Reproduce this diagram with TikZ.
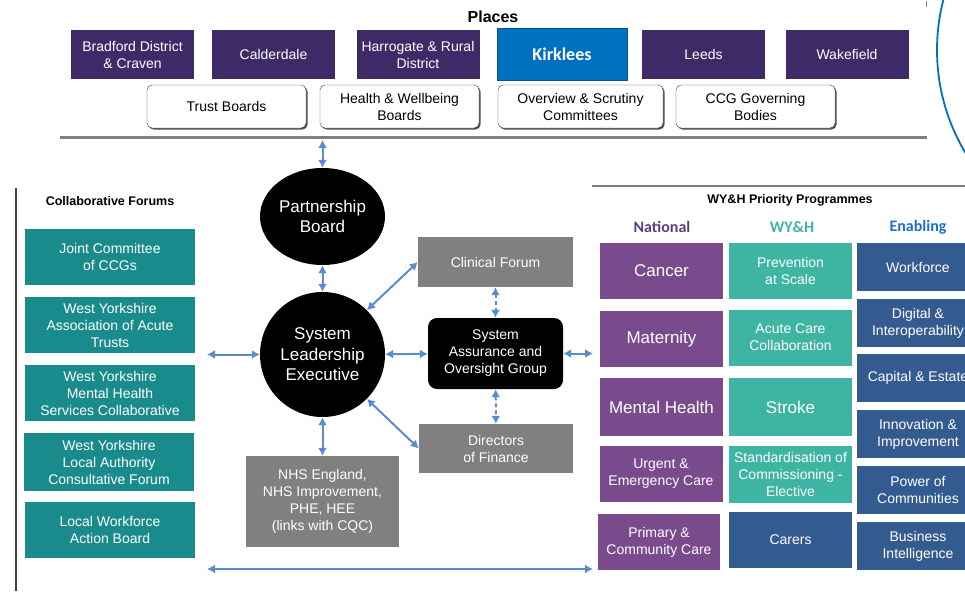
\documentclass[tikz,border=0pt]{standalone}
\usepackage{fontspec}
\setmainfont{Liberation Sans}
\newfontfamily\calfont{Carlito}
\usetikzlibrary{arrows.meta,shapes.geometric,shadows}
\definecolor{placepurple}{RGB}{62,42,103}
\definecolor{kirkblue}{RGB}{0,112,192}
\definecolor{forumteal}{RGB}{26,139,140}
\definecolor{natpurple}{RGB}{122,75,140}
\definecolor{wyhteal}{RGB}{62,180,162}
\definecolor{enabblue}{RGB}{52,91,144}
\definecolor{boxgrey}{RGB}{128,128,128}
\definecolor{linkblue}{RGB}{88,140,206}
\definecolor{natlabel}{RGB}{90,62,128}
\definecolor{enablabel}{RGB}{31,110,200}

\begin{document}
\begin{tikzpicture}[x=1pt, y=-1pt,
    font=\fontsize{14}{17}\selectfont,
    box/.style={inner sep=0pt, align=center, text=white},
    place/.style={box, fill=placepurple, minimum width=123pt, minimum height=49pt},
    board/.style={
        draw=black!75,
        fill=white,
        rounded corners=5pt,
        inner sep=0pt,
        align=center,
        minimum width=159pt,
        minimum height=43pt,
        drop shadow={shadow xshift=1.5pt, shadow yshift=-1.5pt, opacity=1, fill=black!70}
    },
    forum/.style={box, fill=forumteal, minimum width=170pt, minimum height=56pt},
    natl/.style={box, fill=natpurple, minimum width=123pt, minimum height=56pt},
    wyh/.style={box, fill=wyhteal, minimum width=123pt, minimum height=56pt},
    enab/.style={box, fill=enabblue, minimum width=123pt, minimum height=48pt},
    greybox/.style={box, fill=boxgrey},
    blob/.style={box, fill=black, font=\fontsize{17}{20.5}\selectfont},
    big/.style={font=\fontsize{17}{20}\selectfont},
    heading/.style={font=\bfseries\fontsize{12.5}{15}\selectfont},
    colhead/.style={font=\calfont\bfseries\fontsize{16}{19}\selectfont},
    link/.style={<->, >={Latex[length=8pt,width=9pt]}, line width=2pt, draw=linkblue},
    dlink/.style={link, dash pattern=on 4pt off 3pt}
]
\useasboundingbox (0,0) rectangle (965,591);
\clip (0,0) rectangle (965,591);

\draw[kirkblue, line width=1.8pt] (1137,50) circle[radius=200];
\draw[black!50, line width=1pt] (926,1) -- (926,7);

\node[font=\bfseries\fontsize{16}{19}\selectfont] (places) at (493,17) {Places};
\node[place] (bradford) at (132.5,54.5) {Bradford District\\\& Craven};
\node[place] (calder) at (273.5,54.5) {Calderdale};
\node[place] (harrogate) at (418,54.5) {Harrogate \& Rural\\District};
\node[place, fill=kirkblue, draw=kirkblue!75!black, minimum width=130pt, minimum height=52pt,
    font=\calfont\bfseries\fontsize{18}{20}\selectfont] (kirklees) at (562,54) {Kirklees};
\node[place] (leeds) at (703.5,54.5) {Leeds};
\node[place] (wakefield) at (847,54.5) {Wakefield};

\node[board] (trust) at (226.5,106.5) {Trust Boards};
\node[board] (hwb) at (399.5,106.5) {Health \& Wellbeing\\Boards};
\node[board, minimum width=165pt] (osc) at (580.5,106.5) {Overview \& Scrutiny\\Committees};
\node[board] (ccg) at (755.5,106.5) {CCG Governing\\Bodies};

\draw[black!50, line width=3pt] (60,137) -- (927,137);
\draw[black!75, line width=2pt] (16,188) -- (16,591);
\draw[black!50, line width=2pt] (592,186) -- (965,186);

\node[heading] (forums) at (110,201.5) {Collaborative Forums};
\node[forum] (jcc) at (110,257) {Joint Committee\\of CCGs};
\node[forum] (aat) at (110,325) {West Yorkshire\\Association of Acute\\Trusts};
\node[forum] (mhs) at (110,393) {West Yorkshire\\Mental Health\\Services Collaborative};
\node[forum, minimum height=58pt] (lac) at (109,462) {West Yorkshire\\Local Authority\\Consultative Forum};
\node[forum] (lwab) at (110,529.5) {Local Workforce\\Action Board};

\node[ellipse, blob, minimum width=125pt, minimum height=97pt] (pb) at (322.5,216.5) {Partnership\\Board};
\node[circle, blob, minimum size=125pt] (sle) at (322.5,354.5) {System\\Leadership\\Executive};
\node[greybox, minimum width=155pt, minimum height=50pt] (cf) at (495.5,262) {Clinical Forum};
\node[box, fill=black, rounded corners=9pt, minimum width=135pt, minimum height=71pt] (saog) at (495.5,353.5)
    {System\\Assurance and\\Oversight Group};
\node[greybox, minimum width=154pt, minimum height=49pt] (dof) at (496,448.5) {Directors\\of Finance};
\node[greybox, minimum width=153pt, minimum height=91pt] (nhs) at (322.5,501.5)
    {NHS England,\\NHS Improvement,\\PHE, HEE\\(links with CQC)};

\coordinate (ptop) at (322.5,140);
\coordinate (lft) at (207,354.5);
\coordinate (rgt) at (593,353.5);
\coordinate (bl) at (207,569);
\coordinate (br) at (593,569);

\draw[link] (ptop) -- (pb);
\draw[link] (pb) -- (sle);
\draw[link] (sle.45) -- (cf.west);
\draw[link] (sle.-45) -- (dof.west);
\draw[link] (sle) -- (saog);
\draw[link] (lft) -- (sle);
\draw[link] (saog) -- (rgt);
\draw[link] (sle) -- (nhs);
\draw[dlink] (cf) -- (saog);
\draw[dlink] (saog) -- (dof);
\draw[link] (bl) -- (br);

\node[heading] (prog) at (790,200) {WY\&H Priority Programmes};
\node[colhead, text=natlabel] (hnat) at (662,227) {National};
\node[colhead, text=wyhteal] (hwyh) at (792,227) {WY\&H};
\node[colhead, text=enablabel] (henab) at (918,227) {Enabling};

\node[natl, big] (cancer) at (661.5,271) {Cancer};
\node[natl, big] (maternity) at (661.5,339) {Maternity};
\node[natl, big, minimum height=58pt] (mental) at (661.5,407) {Mental Health};
\node[natl] (urgent) at (661,474) {Urgent \&\\Emergency Care};
\node[natl, minimum width=122pt] (primary) at (659,542) {Primary \&\\Community Care};

\node[wyh] (prevent) at (790.5,271) {Prevention\\at Scale};
\node[wyh] (acute) at (790.5,337.5) {Acute Care\\Collaboration};
\node[wyh, big, minimum height=58pt] (stroke) at (790.5,407) {Stroke};
\node[wyh, minimum height=57pt] (standard) at (790.5,474.5) {Standardisation of\\Commissioning -\\Elective};
\node[wyh, fill=enabblue] (carers) at (790.5,540) {Carers};

\node[enab] (workforce) at (918,267) {Workforce};
\node[enab] (digital) at (918,323) {Digital \&\\Interoperability};
\node[enab] (capital) at (918,378) {Capital \& Estate};
\node[enab] (innov) at (918,434) {Innovation \&\\Improvement};
\node[enab] (power) at (918,490) {Power of\\Communities};
\node[enab] (bi) at (918,546) {Business\\Intelligence};

\end{tikzpicture}
\end{document}
